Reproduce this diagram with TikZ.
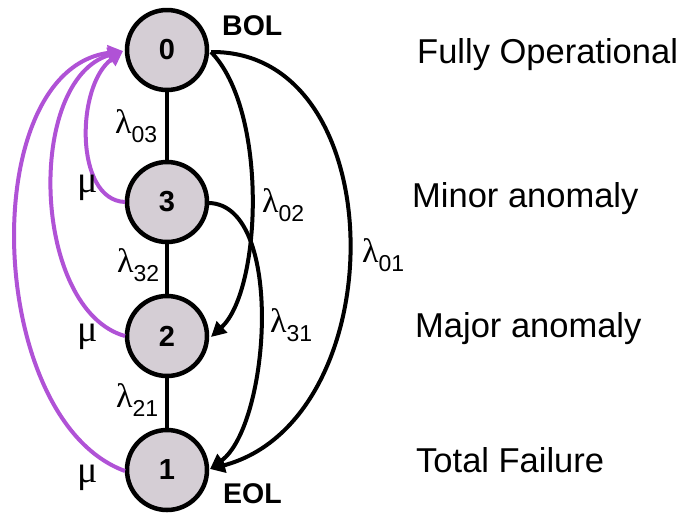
\documentclass[tikz,border=0pt]{standalone}
\usepackage{fontspec}
\setmainfont{Liberation Sans}
\newfontfamily\greekfont{Liberation Serif}
\usetikzlibrary{arrows.meta}
\definecolor{nodefill}{RGB}{213,206,213}
\definecolor{purp}{RGB}{176,82,214}
\newcommand\lm[1]{{\greekfont\fontsize{34}{34}\selectfont λ}\raisebox{-9pt}{\fontsize{23}{23}\selectfont #1}}
\newcommand\mugr{{\greekfont\fontsize{38}{38}\selectfont μ}}
\begin{document}
\begin{tikzpicture}[x=1pt,y=-1pt,
  state/.style={circle,draw=black,line width=4.5pt,fill=nodefill,minimum size=80pt,inner sep=0pt,
    font=\fontsize{29}{29}\selectfont\bfseries},
  txt/.style={anchor=base west,inner sep=0pt},
  side/.style={anchor=base west,inner sep=0pt,font=\fontsize{34.5}{34.5}\selectfont},
  tag/.style={anchor=base west,inner sep=0pt,font=\fontsize{28.5}{28.5}\selectfont\bfseries},
  blk/.style={line width=4pt,draw=black},
  blkarr/.style={line width=4pt,draw=black,-{Triangle[length=15pt,width=15pt]}},
  parr/.style={line width=4pt,draw=purp,-{Triangle[length=15pt,width=15pt]}}]
\useasboundingbox (0,0) rectangle (682,515);
\node[state] (n0) at (167,50) {0};
\node[state] (n3) at (167,202) {3};
\node[state] (n2) at (167,336) {2};
\node[state] (n1) at (167,470) {1};
% vertical connectors
\draw[blk] (n0) -- (n3);
\draw[blk] (n3) -- (n2);
\draw[blk] (n2) -- (n1);
% black transitions
\coordinate (s0) at (211,52);
\coordinate (s3) at (209,203);
\coordinate (t2) at (211,337);
\coordinate (t1) at (210,469);
\draw[blkarr] (s0) .. controls (268,110) and (262,290) .. (t2);
\draw[blkarr] (s0) .. controls (395,50) and (395,420) .. (t1);
\draw[blkarr] (s3) .. controls (285,205) and (270,425) .. (t1);
% purple repair transitions
\coordinate (p3) at (125,202);
\coordinate (p2) at (125,336);
\coordinate (p1) at (125,471);
\coordinate (pt) at (123,51);
\draw[parr] (p3) .. controls (74,200) and (76,85) .. (pt);
\draw[parr] (p2) .. controls (32,310) and (25,80) .. (pt);
\draw[parr] (p1) .. controls (-15,420) and (-25,70) .. (pt);
% labels
\node[txt] (l03) at (115,133) {\lm{03}};
\node[txt] (l32) at (117,272) {\lm{32}};
\node[txt] (l21) at (116,407) {\lm{21}};
\node[txt] (l02) at (262,212) {\lm{02}};
\node[txt] (l31) at (270,332) {\lm{31}};
\node[txt] (l01) at (362,262) {\lm{01}};
\node[txt] (m3) at (77,192) {\mugr};
\node[txt] (m2) at (77,341) {\mugr};
\node[txt] (m1) at (77,482) {\mugr};
\node[tag] (bol) at (222,35) {BOL};
\node[tag] (eol) at (223,503) {EOL};
\node[side] (s0t) at (417,63) {Fully Operational};
\node[side] (s3t) at (412,207) {Minor anomaly};
\node[side] (s2t) at (415,337) {Major anomaly};
\node[side] (s1t) at (416,472) {Total Failure};
\end{tikzpicture}
\end{document}
